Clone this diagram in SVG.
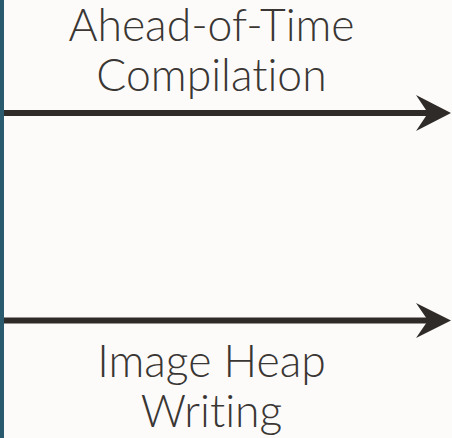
<svg xmlns="http://www.w3.org/2000/svg" width="452" height="438" viewBox="0 0 452 438">
  <style>
    .label { font-family: Lato, "Open Sans", "Liberation Sans", sans-serif; font-weight: 300; font-size: 44.5px; fill: #3a3633; text-anchor: middle; font-variant-ligatures: none; }
    .flow { stroke: #2f2b28; stroke-width: 6; fill: none; }
    .head { fill: #2f2b28; }
  </style>
  <!-- page background and left accent bar -->
  <rect x="0" y="0" width="452" height="438" fill="#fcfbfa"/>
  <rect x="0" y="0" width="4" height="438" fill="#2a5a6e"/>

  <g id="connectors">
    <g id="arrow-aot">
      <line class="flow" x1="4" y1="113" x2="430" y2="113"/>
      <polygon class="head" points="416,95 451,113 416,131 428,113"/>
    </g>
    <g id="arrow-heap">
      <line class="flow" x1="4" y1="320.5" x2="430" y2="320.5"/>
      <polygon class="head" points="416,303 451,320.5 416,338 428,320.5"/>
    </g>
  </g>

  <g id="label-aot">
    <text class="label" x="211.5" y="41">Ahead-of-Time</text>
    <text class="label" x="211.5" y="91">Compilation</text>
  </g>
  <g id="label-heap">
    <text class="label" x="211.5" y="377">Image Heap</text>
    <text class="label" x="211.5" y="427">Writing</text>
  </g>
</svg>
